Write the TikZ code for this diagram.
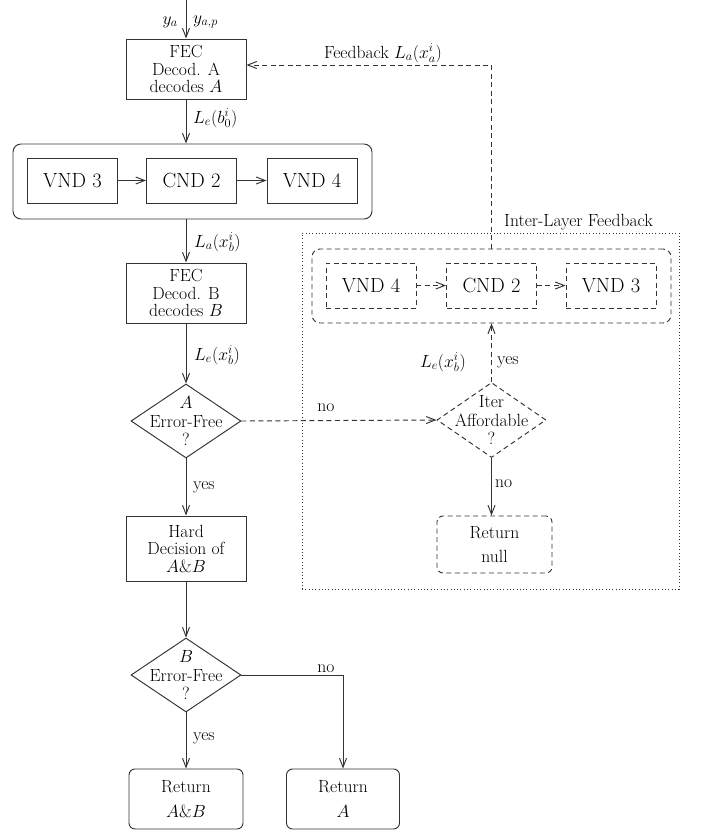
\RequirePackage{fix-cm}
\documentclass[tikz,border=0pt]{standalone}
\usetikzlibrary{arrows.meta,shapes.geometric,calc}
\newcommand\mainfs{\fontsize{17.6}{17.5}\selectfont}
\newcommand\diafs{\fontsize{17.6}{18.7}\selectfont}
\newcommand\retfs{\fontsize{17.6}{24.5}\selectfont}
\newcommand\bigfs{\fontsize{20.5}{22}\selectfont}
\begin{document}
\begin{tikzpicture}[x=1pt,y=-1pt,
  ln/.style={line width=0.95pt, draw=black!80},
  arr/.style={ln, -{Straight Barb[length=9pt,width=7pt]}},
  dsh/.style={dash pattern=on 5pt off 3.5pt},
  dots/.style={dash pattern=on 0.9pt off 2.4pt},
  box/.style={ln, rectangle, minimum width=120pt, minimum height=60pt, align=center, font=\mainfs, inner sep=0pt},
  vbox/.style={ln, rectangle, minimum width=90pt, minimum height=45pt, font=\bigfs, inner sep=0pt},
  obox/.style={ln, rectangle, rounded corners=8pt, minimum width=359pt, minimum height=75pt, inner sep=0pt},
  rbox/.style={ln, rectangle, rounded corners=6pt, minimum width=114pt, minimum height=60pt, align=center, font=\retfs, inner sep=0pt},
  dia/.style={ln, diamond, minimum width=110pt, minimum height=74pt, inner sep=0pt},
  diatext/.style={align=center, font=\diafs, inner sep=0pt},
  lab/.style={font=\mainfs, inner sep=0pt}]
\useasboundingbox (0,0) rectangle (702,834);

% main column
\coordinate (in) at (186,0);
\node[box] (A) at (186,69) {FEC\\Decod. A\\decodes $A$};
\node[obox] (O1) at (192.5,181.5) {};
\node[vbox] (v3) at (72.5,180.5) {VND 3};
\node[vbox] (c2) at (191.5,180.5) {CND 2};
\node[vbox] (v4) at (312,180.5) {VND 4};
\node[box] (B) at (186,293) {FEC\\Decod. B\\decodes $B$};
\node[dia] (dA) at (186,421) {};
\node[diatext] at (dA) {$A$\\Error-Free\\?};
\node[box, minimum height=65pt] (H) at (186,548.5) {Hard\\Decision of\\$A\&B$};
\node[dia] (dB) at (186,675) {};
\node[diatext] at (dB) {$B$\\Error-Free\\?};
\node[rbox] (RAB) at (186,799) {Return\\$A\&B$};
\node[rbox, minimum width=113pt] (RA) at (343,799) {Return\\$A$};

% inter-layer feedback
\node[ln, dots, rectangle, minimum width=377pt, minimum height=356pt, inner sep=0pt] (IL) at (490.5,411) {};
\node[lab] (ILt) at (578.5,222) {Inter-Layer Feedback};
\node[obox, dsh, minimum height=74pt] (O2) at (491.5,286) {};
\node[vbox, dsh] (w4) at (371,285.5) {VND 4};
\node[vbox, dsh] (w2) at (491.5,285.5) {CND 2};
\node[vbox, dsh] (w3) at (611,285.5) {VND 3};
\node[dia, dsh, minimum width=109pt, minimum height=75pt] (dI) at (491.5,420) {};
\node[diatext] at (dI) {Iter\\Affordable\\?};
\node[rbox, dsh, minimum width=115pt, minimum height=57pt] (RN) at (494.5,544.5) {Return\\null};

% connectors main
\draw[arr] (in) -- (A.north);
\draw[arr] (A.south) -- (A.south |- O1.north);
\draw[arr] (v3) -- (c2);
\draw[arr] (c2) -- (v4);
\draw[arr] (O1.south -| B.north) -- (B.north);
\draw[arr] (B.south) -- (dA.north);
\draw[arr] (dA.south) -- (H.north);
\draw[arr] (H.south) -- (dB.north);
\draw[arr] (dB.south) -- (RAB.north);
\draw[arr] (dB.east) -| (RA.north);

% connectors feedback
\draw[arr, dsh] (dA.east) -- (dI.west);
\draw[arr, dsh] (dI.north) -- (O2.south -| dI.north);
\draw[arr, dsh] (w4) -- (w2);
\draw[arr, dsh] (w2) -- (w3);
\draw[arr, dsh] (O2.north -| dI.north) |- ([yshift=4pt]A.east);
\draw[arr] (dI.south) -- (RN.north -| dI.south);

% labels
\node[lab, anchor=east] at (178,22) {$y_a$};
\node[lab, anchor=west] at (193,22) {$y_{a,p}$};
\node[lab, anchor=west] at (193,118) {$L_e(b_0^i)$};
\node[lab, anchor=west] at (194,242) {$L_a(x_b^i)$};
\node[lab, anchor=west] at (194,355) {$L_e(x_b^i)$};
\node[lab] at (326,408) {no};
\node[lab, anchor=west] at (193,487) {yes};
\node[lab] at (326,669) {no};
\node[lab, anchor=west] at (193,738) {yes};
\node[lab] at (383,53) {Feedback $L_a(x_a^i)$};
\node[lab, anchor=east] at (466,362) {$L_e(x_b^i)$};
\node[lab, anchor=west] at (497,362) {yes};
\node[lab, anchor=west] at (495,484) {no};
\end{tikzpicture}
\end{document}
